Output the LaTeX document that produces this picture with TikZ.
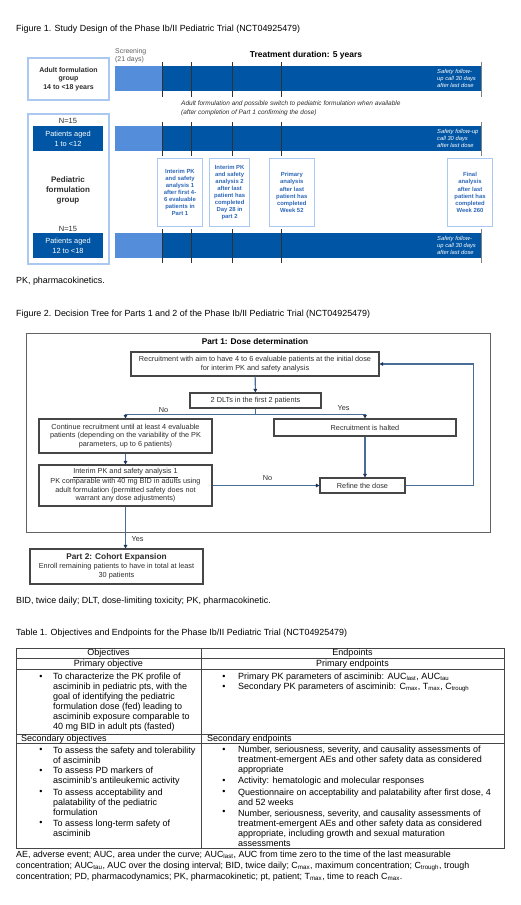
\documentclass[tikz,border=0pt]{standalone}
\usepackage{fontspec}
\setmainfont{Liberation Sans}
\usepackage{xcolor}
\usetikzlibrary{arrows.meta, positioning}

\definecolor{barblue}{RGB}{0,86,164}
\definecolor{barlight}{RGB}{84,142,218}
\definecolor{grpline}{RGB}{170,200,240}
\definecolor{anatext}{RGB}{46,104,184}
\definecolor{linkblue}{RGB}{72,110,150}
\definecolor{tipblue}{RGB}{28,52,92}
\definecolor{boxgray}{RGB}{70,70,70}
\definecolor{txtgray}{RGB}{45,45,45}
\definecolor{tickgray}{RGB}{50,50,50}
\definecolor{screengray}{RGB}{95,95,95}

\tikzstyle{caption} = [anchor=west, inner sep=0pt, align=left, text=black, font=\fontsize{8.9}{10.8}\selectfont]
\tikzstyle{grpbox} = [rectangle, draw=grpline, line width=1.2pt, fill=white, align=center, inner sep=0pt]
\tikzstyle{agebox} = [rectangle, fill=barblue, text=white, align=center, inner sep=0pt, minimum width=70pt, minimum height=25pt, font=\fontsize{7.4}{10}\selectfont]
\tikzstyle{anabox} = [rectangle, draw=grpline, line width=1pt, fill=white, text=anatext, align=center, inner sep=0pt, minimum height=68.4pt, font=\bfseries\fontsize{5.9}{7.1}\selectfont]
\tikzstyle{safety} = [anchor=west, inner sep=0pt, align=left, text=white, font=\itshape\fontsize{5.8}{7}\selectfont]
\tikzstyle{tick} = [tickgray, line width=0.8pt]
\tikzstyle{flowbox} = [rectangle, draw=boxgray, line width=1.1pt, fill=white, align=center, inner sep=0pt, text=txtgray, font=\fontsize{7.3}{8.5}\selectfont]
\tikzstyle{arrow} = [linkblue, line width=1.1pt, -{Triangle[length=3.5pt, width=3.6pt, color=tipblue]}]
\tikzstyle{branch} = [inner sep=0pt, text=txtgray, font=\fontsize{7.3}{8.5}\selectfont]
\tikzstyle{tline} = [boxgray, line width=0.9pt]
\tikzstyle{cell} = [inner sep=0pt, align=left, font=\fontsize{9}{10}\selectfont]
\tikzstyle{dot} = [inner sep=0pt, font=\fontsize{9}{10}\selectfont]

\begin{document}
\begin{tikzpicture}[x=1pt, y=-1pt]
    \useasboundingbox (0,0) rectangle (520,905);
    \fill[white] (0,0) rectangle (520,905);

    % Figure 1: study design
    \node[caption] (fig1) at (16,29) {Figure 1. Study Design of the Phase Ib/II Pediatric Trial (NCT04925479)};
    \node[anchor=west, inner sep=0pt, align=left, text=screengray, font=\fontsize{6.9}{7.5}\selectfont] (screen) at (115,55.5) {Screening\\(21 days)};
    \node[inner sep=0pt, font=\bfseries\fontsize{8.5}{10}\selectfont] (duration) at (306,55) {Treatment duration: 5 years};

    % Treatment bars
    \foreach \y in {66,126,233} {
        \fill[barlight] (115,\y) rectangle (162,\y+25);
        \fill[barblue] (162,\y) rectangle (481,\y+25);
    }
    \foreach \x in {162,191,232,281} {
        \draw[tick] (\x,62) -- (\x,97);
        \draw[tick] (\x,122) -- (\x,156);
        \draw[tick] (\x,229) -- (\x,263);
    }
    \foreach \a/\b in {62/97,122/156,229/263}
        \draw[tick, gray] (481,\a) -- (481,\b);

    \node[safety] (safe1) at (437,78.5) {Safety follow-\\up call 30 days\\after last dose};
    \node[safety] (safe2) at (437,138.5) {Safety follow-up\\call 30 days\\after last dose};
    \node[safety] (safe3) at (437,245.5) {Safety follow-\\up call 30 days\\after last dose};

    % Groups
    \node[grpbox, minimum width=81pt, minimum height=42pt, font=\bfseries\fontsize{7}{8.5}\selectfont, text=txtgray] (adult) at (68.5,79) {Adult formulation\\group\\14 to <18 years};
    \node[anchor=west, inner sep=0pt, align=left, text=txtgray, font=\itshape\fontsize{6.5}{9}\selectfont] (switch) at (181,108.5) {Adult formulation and possible switch to pediatric formulation when available\\(after completion of Part 1 confirming the dose)};
    \node[grpbox, minimum width=81pt, minimum height=150pt] (pedbox) at (68.5,189) {};
    \node[inner sep=0pt, text=txtgray, font=\fontsize{7.5}{9}\selectfont] (nyoung) at (68,121) {N=15};
    \node[agebox] (young) at (68,138.5) {Patients aged\\1 to <12};
    \node[inner sep=0pt, align=center, text=txtgray, font=\bfseries\fontsize{8}{10}\selectfont] (pedgrp) at (68,190) {Pediatric\\formulation\\group};
    \node[inner sep=0pt, text=txtgray, font=\fontsize{7.5}{9}\selectfont] (nolder) at (68,229) {N=15};
    \node[agebox] (older) at (68,245.5) {Patients aged\\12 to <18};

    % Analyses
    \node[anabox, minimum width=45.4pt] (ana1) at (180,192.5) {Interim PK\\and safety\\analysis 1\\after first 4-\\6 evaluable\\patients in\\Part 1};
    \node[anabox, minimum width=40.7pt] (ana2) at (229.6,192.5) {Interim PK\\and safety\\analysis 2\\after last\\patient has\\completed\\Day 28 in\\part 2};
    \node[anabox, minimum width=45pt] (ana3) at (291.8,192.5) {Primary\\analysis\\after last\\patient has\\completed\\Week 52};
    \node[anabox, minimum width=45.4pt] (ana4) at (470,192.5) {Final\\analysis\\after last\\patient has\\completed\\Week 260};

    \node[caption] (fn1) at (16,281) {PK, pharmacokinetics.};

    % Figure 2: decision tree
    \node[caption] (fig2) at (16,314) {Figure 2. Decision Tree for Parts 1 and 2 of the Phase Ib/II Pediatric Trial (NCT04925479)};
    \node[rectangle, draw=boxgray!85, line width=1pt, minimum width=464pt, minimum height=199pt, inner sep=0pt] (part1) at (258,432.5) {};
    \node[inner sep=0pt, font=\bfseries\fontsize{8.3}{10}\selectfont] (part1title) at (255,342) {Part 1: Dose determination};

    \node[flowbox, minimum width=248pt, minimum height=24pt] (recruit) at (255,364) {Recruitment with aim to have 4 to 6 evaluable patients at the initial dose\\for interim PK and safety analysis};
    \node[flowbox, minimum width=131pt, minimum height=15pt] (dlt) at (255.5,400.5) {2 DLTs in the first 2 patients};
    \node[flowbox, minimum width=173pt, minimum height=34pt] (continue) at (125.5,436) {Continue recruitment until at least 4 evaluable\\patients (depending on the variability of the PK\\parameters, up to 6 patients)};
    \node[flowbox, minimum width=182pt, minimum height=17pt] (halted) at (365,427.5) {Recruitment is halted};
    \node[flowbox, minimum width=173pt, minimum height=41pt] (interim) at (125.5,485.5) {\underline{Interim PK and safety analysis 1}\\PK comparable with 40 mg BID in adults using\\adult formulation (permitted safety does not\\warrant any dose adjustments)};
    \node[flowbox, minimum width=85pt, minimum height=15pt] (refine) at (362.5,485.5) {Refine the dose};
    \node[flowbox, minimum width=173pt, minimum height=35pt, font=\fontsize{7.3}{9}\selectfont] (part2) at (116.5,566.5) {\textbf{\fontsize{8.3}{9}\selectfont Part 2: Cohort Expansion}\\Enroll remaining patients to have in total at least\\30 patients};

    % Connections
    \draw[arrow] (recruit) -- (dlt);
    \draw[linkblue, line width=1.1pt] (dlt.south) -- ++(0,6) coordinate (split);
    \draw[arrow] (split) -| (continue.north);
    \draw[arrow] (split) -| (halted.north);
    \node[branch] (no1) at (163.5,410) {No};
    \node[branch] (yes1) at (343.5,408) {Yes};
    \draw[arrow] (continue) -- (interim);
    \draw[arrow] (interim) -- (refine);
    \node[branch] (no2) at (267.5,478.3) {No};
    \draw[arrow] (halted.south) -- (halted.south |- refine.north);
    \draw[arrow] (refine.east) -- ++(68,0) |- (recruit.east);
    \draw[arrow] (interim.south) -- (interim.south |- part2.north);
    \node[branch] (yes2) at (137.5,539) {Yes};

    \node[caption] (fn2) at (16,601) {BID, twice daily; DLT, dose-limiting toxicity; PK, pharmacokinetic.};

    % Table 1
    \node[caption] (tab1) at (16,633) {Table 1. Objectives and Endpoints for the Phase Ib/II Pediatric Trial (NCT04925479)};
    \draw[tline] (16,648) rectangle (504,848);
    \draw[tline] (201,648) -- (201,848);
    \foreach \y in {658,669,734,743}
        \draw[tline] (16,\y) -- (504,\y);

    \node[cell] (objhead) at (108.5,653) {Objectives};
    \node[cell] (endhead) at (352.5,653) {Endpoints};
    \node[cell] (priobj) at (108.5,663.8) {Primary objective};
    \node[cell] (priend) at (352.5,663.8) {Primary endpoints};

    \node[dot] (o1dot) at (41,677) {\textbullet};
    \node[cell, anchor=west] (o1) at (53,702) {To characterize the PK profile of\\asciminib in pediatric pts, with the\\goal of identifying the pediatric\\formulation dose (fed) leading to\\asciminib exposure comparable to\\40 mg BID in adult pts (fasted)};
    \node[dot] (e1dot) at (224,677) {\textbullet};
    \node[cell, anchor=west] (e1) at (238,677) {Primary PK parameters of asciminib: AUC\textsubscript{last}, AUC\textsubscript{tau}};
    \node[dot] (e2dot) at (224,687) {\textbullet};
    \node[cell, anchor=west] (e2) at (238,687) {Secondary PK parameters of asciminib: C\textsubscript{max}, T\textsubscript{max}, C\textsubscript{trough}};

    \node[cell, anchor=west] (secobj) at (21,739) {Secondary objectives};
    \node[cell, anchor=west] (secend) at (207,739) {Secondary endpoints};

    \node[dot] (o2dot) at (41,750) {\textbullet};
    \node[cell, anchor=west] (o2) at (53,755) {To assess the safety and tolerability\\of asciminib};
    \node[dot] (o3dot) at (41,771) {\textbullet};
    \node[cell, anchor=west] (o3) at (53,776) {To assess PD markers of\\asciminib's antileukemic activity};
    \node[dot] (o4dot) at (41,792) {\textbullet};
    \node[cell, anchor=west] (o4) at (53,802) {To assess acceptability and\\palatability of the pediatric\\formulation};
    \node[dot] (o5dot) at (41,823) {\textbullet};
    \node[cell, anchor=west] (o5) at (53,828) {To assess long-term safety of\\asciminib};

    \node[dot] (e3dot) at (224,750) {\textbullet};
    \node[cell, anchor=west] (e3) at (238,760) {Number, seriousness, severity, and causality assessments of\\treatment-emergent AEs and other safety data as considered\\appropriate};
    \node[dot] (e4dot) at (224,781.5) {\textbullet};
    \node[cell, anchor=west] (e4) at (238,781.5) {Activity: hematologic and molecular responses};
    \node[dot] (e5dot) at (224,792.3) {\textbullet};
    \node[cell, anchor=west] (e5) at (238,797.3) {Questionnaire on acceptability and palatability after first dose, 4\\and 52 weeks};
    \node[dot] (e6dot) at (224,812.7) {\textbullet};
    \node[cell, anchor=west] (e6) at (238,828) {Number, seriousness, severity, and causality assessments of\\treatment-emergent AEs and other safety data as considered\\appropriate, including growth and sexual maturation\\assessments};

    \node[caption] (fn3) at (16,866) {AE, adverse event; AUC, area under the curve; AUC\textsubscript{last}, AUC from time zero to the time of the last measurable\\concentration; AUC\textsubscript{tau}, AUC over the dosing interval; BID, twice daily; C\textsubscript{max}, maximum concentration; C\textsubscript{trough}, trough\\concentration; PD, pharmacodynamics; PK, pharmacokinetic; pt, patient; T\textsubscript{max}, time to reach C\textsubscript{max}.};

\end{tikzpicture}
\end{document}
